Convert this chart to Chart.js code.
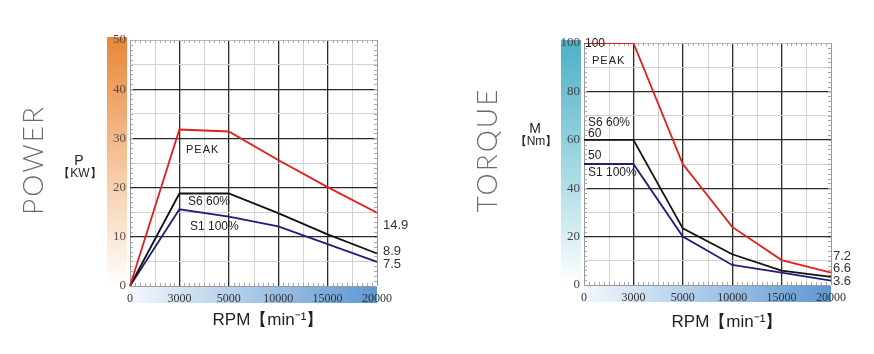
<!DOCTYPE html>
<html>
<head>
<meta charset="utf-8">
<script src="https://cdn.jsdelivr.net/npm/chart.js@4.4.1/dist/chart.umd.min.js"></script>
<style>
  body { margin: 0; background: #fff; }
  #wrap { position: relative; width: 874px; height: 354px; overflow: hidden; }
  #powerLC { position: absolute; left: 0; top: 0; }
  #torqueLC { position: absolute; left: 437px; top: 0; }
</style>
</head>
<body>
<div id="wrap">
  <canvas id="powerLC" width="437" height="354"></canvas>
  <canvas id="torqueLC" width="437" height="354"></canvas>
</div>
<script>
// rpm categories (evenly spaced on the picture)
var rpmLabels = ['0', '3000', '5000', '10000', '15000', '20000'];

// power curves, KW
var powerPeak = [0, 31.8, 31.4, 25.6, 20.1, 14.9];
var powerS6 = [0, 18.8, 18.8, 14.8, 10.5, 6.6];
var powerS1 = [0, 15.6, 14.1, 12.1, 8.5, 4.9];
var powerEndLabels = ['14.9', '8.9', '7.5'];

// torque curves, Nm
var torquePeak = [100, 100, 50, 24, 10.3, 5.1];
var torqueS6 = [60, 60, 23.4, 12.7, 5.9, 3.4];
var torqueS1 = [50, 50, 20, 8.3, 5.1, 1.8];
var torqueEndLabels = ['7.2', '6.6', '3.6'];

var serif = "'Liberation Serif', 'DejaVu Serif', serif";
var sans = "'Liberation Sans', Arial, sans-serif";
var narrow = "'Liberation Sans Narrow', 'Liberation Sans', sans-serif";

function txt(ctx, s, x, y, font, color, align, spacing) {
  ctx.save();
  ctx.font = font;
  ctx.fillStyle = color || '#222';
  ctx.textAlign = align || 'left';
  ctx.textBaseline = 'middle';
  if (spacing) ctx.letterSpacing = spacing;
  ctx.fillText(s, x, y);
  ctx.restore();
}

var deco = {
  id: 'deco',
  beforeDraw: function(chart, args, o) {
    var ctx = chart.ctx, a = chart.chartArea;
    var xs = chart.scales.x;
    ctx.save();
    // gradient bar behind the y labels
    var g = ctx.createLinearGradient(0, a.top, 0, a.bottom);
    g.addColorStop(0, o.yTop);
    g.addColorStop(0.55, o.yMid);
    g.addColorStop(1, '#ffffff');
    ctx.fillStyle = g;
    ctx.fillRect(a.left - 23, a.top - 3, 20, a.bottom - a.top + 3);
    // gradient bar behind the x labels
    var h = ctx.createLinearGradient(a.left, 0, a.right, 0);
    h.addColorStop(0, '#f3f7fd');
    h.addColorStop(1, '#5e98d2');
    ctx.fillStyle = h;
    ctx.fillRect(a.left, a.bottom + 1, a.right - a.left, o.xBarH);
    // minor vertical lines halfway between rpm columns
    ctx.strokeStyle = '#d2d2d2';
    ctx.lineWidth = 1;
    for (var i = 0; i < rpmLabels.length - 1; i++) {
      var mx = Math.round((xs.getPixelForTick(i) + xs.getPixelForTick(i + 1)) / 2) + 0.5;
      ctx.beginPath();
      ctx.moveTo(mx, a.top);
      ctx.lineTo(mx, a.bottom);
      ctx.stroke();
    }
    ctx.restore();
  },
  beforeDatasetsDraw: function(chart, args, o) {
    // small ruler ticks along the frame
    var ctx = chart.ctx, a = chart.chartArea;
    var xs = chart.scales.x, ys = chart.scales.y;
    ctx.save();
    ctx.strokeStyle = '#a8a8a8';
    ctx.lineWidth = 1;
    ctx.beginPath();
    for (var i = 0; i < rpmLabels.length - 1; i++) {
      var x0 = xs.getPixelForTick(i), x1 = xs.getPixelForTick(i + 1);
      for (var k = 1; k < 10; k++) {
        var px = Math.round(x0 + (x1 - x0) * k / 10) + 0.5;
        ctx.moveTo(px, a.top); ctx.lineTo(px, a.top + 3);
        ctx.moveTo(px, a.bottom); ctx.lineTo(px, a.bottom - 3);
      }
    }
    for (var v = 0; v <= o.yMax; v += o.yMinor) {
      var py = Math.round(ys.getPixelForValue(v)) + 0.5;
      ctx.moveTo(a.right, py); ctx.lineTo(a.right - 3, py);
      ctx.moveTo(a.left, py); ctx.lineTo(a.left + 3, py);
    }
    ctx.stroke();
    ctx.restore();
  },
  afterDraw: function(chart, args, o) {
    var ctx = chart.ctx;
    // big rotated title
    ctx.save();
    ctx.translate(o.title[1], o.title[2]);
    ctx.rotate(-Math.PI / 2);
    txt(ctx, o.title[0], 0, 0, "300 28px Lato, 'Open Sans', sans-serif", '#6a6a6a', 'center', '2px');
    ctx.restore();
    // unit
    txt(ctx, o.unit[0], o.unit[2], o.unit[3], '14px ' + sans, '#222', 'center');
    txt(ctx, o.unit[1], o.unit[2] + 1, o.unit[3] + 13, '12px ' + sans, '#222', 'center');
    // curve names inside the plot
    o.notes.forEach(function(n) {
      txt(ctx, n[0], n[1], n[2], n[3], '#222', 'left', n[4]);
    });
    // values at the right end
    o.ends.forEach(function(e) {
      txt(ctx, e[0], e[1], e[2], '13px ' + sans, '#333', 'left');
    });
    // x axis title
    txt(ctx, 'RPM【min⁻¹】', o.rpm[0], o.rpm[1], '17px ' + sans, '#222', 'center');
  }
};

function lineSet(label, values, color) {
  return {
    label: label,
    data: values,
    borderColor: color,
    backgroundColor: color,
    borderWidth: 1.8,
    pointRadius: 0,
    tension: 0,
    fill: false
  };
}

function makeChart(el, sets, yMax, yStep, yMajor, pad, yColor, decoOpts) {
  return new Chart(document.getElementById(el), {
    type: 'line',
    data: { labels: rpmLabels, datasets: sets },
    plugins: [deco],
    options: {
      responsive: false,
      animation: false,
      layout: { padding: pad },
      plugins: {
        legend: { display: false },
        tooltip: { enabled: false },
        deco: decoOpts
      },
      scales: {
        x: {
          offset: false,
          afterFit: function(s) { s.height = 20; },
          border: { display: false },
          grid: {
            drawTicks: false,
            color: function(c) { return (c.index === 0 || c.index === rpmLabels.length - 1) ? '#999' : '#2a2a2a'; },
            lineWidth: function(c) { return (c.index === 0 || c.index === rpmLabels.length - 1) ? 1 : 1.3; }
          },
          ticks: {
            padding: 6,
            maxRotation: 0,
            autoSkip: false,
            color: '#333',
            font: { family: serif, size: 12 }
          }
        },
        y: {
          min: 0,
          max: yMax,
          afterFit: function(s) { s.width = 30; },
          border: { display: false },
          grid: {
            drawTicks: false,
            color: function(c) {
              var v = c.tick.value;
              if (v === yMax) return '#bbb';
              if (v === 0) return '#999';
              return v % yMajor === 0 ? '#2a2a2a' : '#d2d2d2';
            },
            lineWidth: function(c) {
              var v = c.tick.value;
              return (v % yMajor === 0 && v !== 0 && v !== yMax) ? 1.3 : 1;
            }
          },
          ticks: {
            stepSize: yStep,
            padding: 4,
            color: yColor,
            font: { family: serif, size: 13 },
            callback: function(v) { return v % yMajor === 0 ? v : ''; }
          }
        }
      }
    }
  });
}

makeChart('powerLC', [
  lineSet('PEAK', powerPeak, '#e21f1a'),
  lineSet('S6 60%', powerS6, '#111111'),
  lineSet('S1 100%', powerS1, '#1d1f7a')
], 50, 5, 10, { left: 100, right: 60, top: 40, bottom: 48 }, '#5e4c40', {
  yTop: '#e9883c', yMid: '#f6cba6', xBarH: 16, yMax: 50, yMinor: 1,
  title: ['POWER', 34, 160],
  unit: ['P', '【KW】', 79, 161],
  notes: [
    ['PEAK', 186, 150, '11px ' + sans, '1px'],
    ['S6 60%', 188, 202, '12px ' + narrow],
    ['S1 100%', 190, 227, '12px ' + narrow]
  ],
  ends: [[powerEndLabels[0], 383, 225], [powerEndLabels[1], 383, 251], [powerEndLabels[2], 383, 264]],
  rpm: [268, 320]
});

makeChart('torqueLC', [
  lineSet('PEAK', torquePeak, '#e21f1a'),
  lineSet('S6 60%', torqueS6, '#111111'),
  lineSet('S1 100%', torqueS1, '#1d1f7a')
], 100, 10, 20, { left: 117, right: 43, top: 43, bottom: 49 }, '#444', {
  yTop: '#4fb1c6', yMid: '#a9dbe5', xBarH: 16, yMax: 100, yMinor: 2,
  title: ['TORQUE', 51, 150],
  unit: ['M', '【Nm】', 98, 129],
  notes: [
    ['100', 148, 44, '12px ' + narrow],
    ['PEAK', 155, 61, '11px ' + sans, '1px'],
    ['S6 60%', 151, 123, '12px ' + narrow],
    ['60', 151, 134, '12px ' + narrow],
    ['50', 151, 156, '12px ' + narrow],
    ['S1 100%', 151, 173, '12px ' + narrow]
  ],
  ends: [[torqueEndLabels[0], 396, 256], [torqueEndLabels[1], 396, 268], [torqueEndLabels[2], 396, 281]],
  rpm: [290, 322]
});
</script>
</body>
</html>
